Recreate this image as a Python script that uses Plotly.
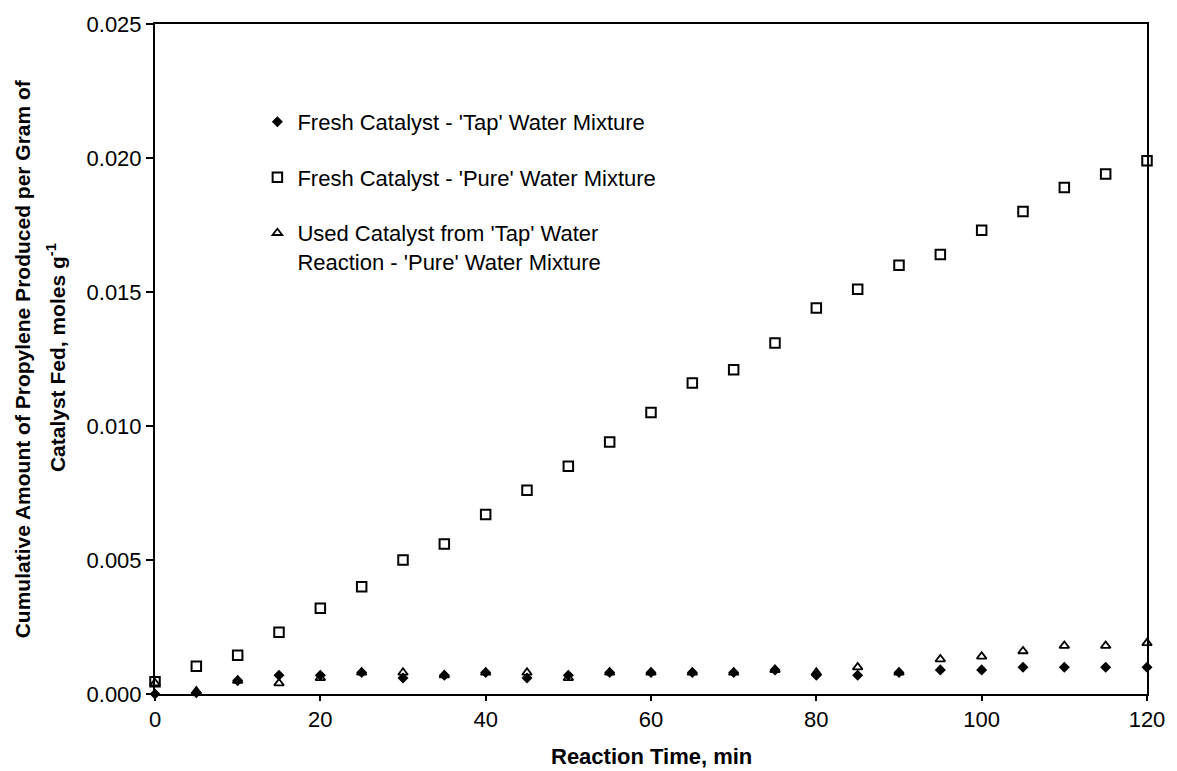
import plotly.graph_objects as go

# Reaction time (min) and cumulative propylene produced per gram of catalyst fed (mol/g)
time_min = [0, 5, 10, 15, 20, 25, 30, 35, 40, 45, 50, 55, 60,
            65, 70, 75, 80, 85, 90, 95, 100, 105, 110, 115, 120]

fresh_tap = [0.0000, 0.00005, 0.0005, 0.0007, 0.0007, 0.0008, 0.0006, 0.0007, 0.0008,
             0.0006, 0.0007, 0.0008, 0.0008, 0.0008, 0.0008, 0.0009, 0.0007, 0.0007,
             0.0008, 0.0009, 0.0009, 0.0010, 0.0010, 0.0010, 0.0010]

fresh_pure = [0.00046, 0.00104, 0.00145, 0.0023, 0.0032, 0.0040, 0.0050, 0.0056, 0.0067,
              0.0076, 0.0085, 0.0094, 0.0105, 0.0116, 0.0121, 0.0131, 0.0144, 0.0151,
              0.0160, 0.0164, 0.0173, 0.0180, 0.0189, 0.0194, 0.0199]

used_pure = [0.0004, 0.0001, 0.0005, 0.0004, 0.0006, 0.0008, 0.0008, 0.0007, 0.0008,
             0.0008, 0.0006, 0.0008, 0.0008, 0.0008, 0.0008, 0.0009, 0.0008, 0.0010,
             0.0008, 0.0013, 0.0014, 0.0016, 0.0018, 0.0018, 0.0019]

series_names = [
    "Fresh Catalyst - 'Tap' Water Mixture",
    "Fresh Catalyst - 'Pure' Water Mixture",
    "Used Catalyst from 'Tap' Water<br>Reaction - 'Pure' Water Mixture",
]

x_ticks = [0, 20, 40, 60, 80, 100, 120]
y_ticks = [0.0, 0.005, 0.010, 0.015, 0.020, 0.025]

FONT = "Arial, Liberation Sans, sans-serif"

fig = go.Figure()

fig.add_trace(go.Scatter(
    x=time_min, y=fresh_tap, mode="markers", name=series_names[0],
    legendgroup="a", cliponaxis=False,
    marker=dict(symbol="diamond", size=8.5, color="black", line=dict(width=0)),
))
fig.add_trace(go.Scatter(
    x=time_min, y=fresh_pure, mode="markers", name=series_names[1],
    legendgroup="b", cliponaxis=False,
    marker=dict(symbol="square-open", size=9.5, color="black", line=dict(width=2)),
))
fig.add_trace(go.Scatter(
    x=time_min, y=used_pure, mode="markers", name=series_names[2],
    legendgroup="c", cliponaxis=False,
    marker=dict(symbol="triangle-up-open", size=8.5, color="black", line=dict(width=1.8)),
))

L, R, T, B = 155, 24, 23, 77
W, H = 1177, 771
plot_w = W - L - R
plot_h = H - T - B


def px_to_paper_x(px):
    return (px - L) / plot_w


def px_to_paper_y(py):
    return (H - B - py) / plot_h


fig.update_layout(
    width=W, height=H,
    margin=dict(l=L, r=R, t=T, b=B, pad=0),
    paper_bgcolor="white", plot_bgcolor="white",
    font=dict(family=FONT, size=22, color="black"),
    showlegend=True,
    legend=dict(
        x=px_to_paper_x(258), y=px_to_paper_y(100),
        xanchor="left", yanchor="top",
        bgcolor="rgba(0,0,0,0)", borderwidth=0,
        font=dict(family=FONT, size=22, color="black"),
        traceorder="grouped", tracegroupgap=24, valign="top",
    ),
    xaxis=dict(
        range=[0, 120], tickvals=x_ticks, ticktext=[str(v) for v in x_ticks],
        showgrid=False, zeroline=False,
        showline=True, linecolor="black", linewidth=2, mirror=True,
        ticks="outside", ticklen=5, tickwidth=1.5, tickcolor="black",
        tickfont=dict(family=FONT, size=22, color="black"),
    ),
    yaxis=dict(
        range=[0, 0.025], tickvals=y_ticks, ticktext=[f"{v:.3f}" for v in y_ticks],
        showgrid=False, zeroline=False,
        showline=True, linecolor="black", linewidth=2, mirror=True,
        ticks="outside", ticklen=7, tickwidth=1.5, tickcolor="black",
        tickfont=dict(family=FONT, size=22, color="black"),
    ),
)

title_font = dict(family=FONT, size=21, color="black")

fig.add_annotation(
    text="<b>Reaction Time, min</b>", xref="paper", yref="paper",
    x=px_to_paper_x(655), y=px_to_paper_y(757), xanchor="center", yanchor="middle",
    showarrow=False, font=dict(family=FONT, size=22, color="black"),
)
fig.add_annotation(
    text="<b>Cumulative Amount of Propylene Produced per Gram of</b>",
    xref="paper", yref="paper", textangle=-90,
    x=px_to_paper_x(22), y=px_to_paper_y(358), xanchor="center", yanchor="middle",
    showarrow=False, font=title_font,
)
fig.add_annotation(
    text="<b>Catalyst Fed, moles g<sup>-1</sup></b>",
    xref="paper", yref="paper", textangle=-90,
    x=px_to_paper_x(55), y=px_to_paper_y(357), xanchor="center", yanchor="middle",
    showarrow=False, font=title_font,
)

fig.write_html("out.html")
